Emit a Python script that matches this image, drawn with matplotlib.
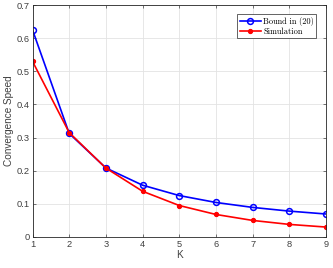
import matplotlib
matplotlib.use("Agg")
import matplotlib.pyplot as plt

K = [1, 2, 3, 4, 5, 6, 7, 8, 9]
bound = [0.625, 0.3125, 0.2083, 0.1563, 0.125, 0.1042, 0.0893, 0.0781, 0.0694]
simulation = [0.530, 0.315, 0.208, 0.138, 0.095, 0.068, 0.050, 0.038, 0.030]

plt.rcParams["font.family"] = ["Liberation Sans", "DejaVu Sans"]

fig = plt.figure(figsize=(3.33, 2.68), dpi=100)
ax = fig.add_axes([32.5 / 333, 1 - 237 / 268, (326 - 32.5) / 333, (237 - 5) / 268])

ax.plot(K, bound, color="#0000ff", lw=1.2, marker="o", ms=4.2,
        mfc="none", mew=1.1, label="Bound in (20)")
ax.plot(K, simulation, color="#ff0000", lw=1.2, marker="o", ms=3.0,
        mfc="#ff0000", mew=0.8, label="Simulation")

ax.set_xlim(1, 9)
ax.set_ylim(0, 0.7)
ax.set_xticks(K)
ax.set_yticks([0, 0.1, 0.2, 0.3, 0.4, 0.5, 0.6, 0.7])
ax.set_yticklabels(["0", "0.1", "0.2", "0.3", "0.4", "0.5", "0.6", "0.7"])
ax.grid(True, color="#e3e3e3", lw=0.6)
ax.set_axisbelow(True)
ax.tick_params(axis="both", labelsize=6.7, colors="#404040", direction="in",
               length=2.5, width=0.5, top=True, right=True, pad=2)
for s in ax.spines.values():
    s.set_color("#262626")
    s.set_linewidth(0.6)

ax.set_xlabel("K", fontsize=7.2, color="#404040", labelpad=1)
ax.set_ylabel("Convergence Speed", fontsize=7.2, color="#404040", labelpad=2)

leg = ax.legend(loc="upper right", bbox_to_anchor=(0.967, 0.96),
                prop={"family": "cmr10", "size": 6}, fancybox=False,
                edgecolor="#262626", framealpha=1, handlelength=2.5,
                borderpad=0.3, labelspacing=0.2, handletextpad=0.3,
                borderaxespad=0)
leg.get_frame().set_linewidth(0.5)

fig.savefig("out.png", dpi=100)
